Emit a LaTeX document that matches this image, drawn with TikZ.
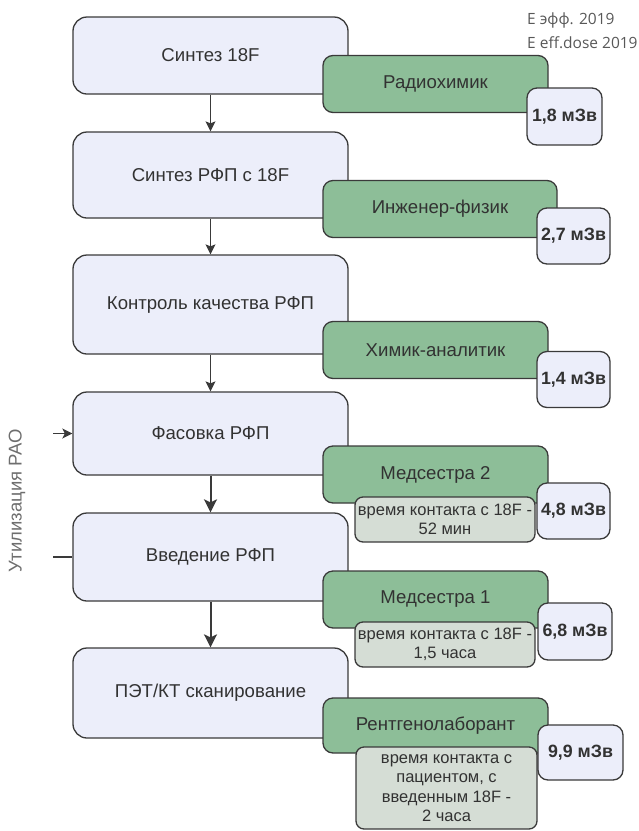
\documentclass[tikz,border=0pt]{standalone}
\usepackage{fontspec}
\setmainfont{Liberation Sans}
\newfontfamily\headfont{Open Sans}
\usetikzlibrary{arrows.meta, positioning}
\definecolor{stagefill}{RGB}{236,238,250}
\definecolor{staffgreen}{RGB}{141,190,152}
\definecolor{notegrey}{RGB}{213,221,213}
\definecolor{edgegrey}{RGB}{58,58,58}
\definecolor{textgrey}{RGB}{50,50,50}
\definecolor{labelgrey}{RGB}{110,110,110}

\begin{document}
\begin{tikzpicture}[x=1pt, y=-1pt,
    stage/.style={rectangle, draw=edgegrey, line width=1.3pt, rounded corners=14pt, fill=stagefill, minimum width=275pt, inner sep=0pt, align=center, text=textgrey, font=\fontsize{18.6}{22}\selectfont},
    staff/.style={rectangle, draw=edgegrey, line width=1.3pt, rounded corners=10pt, fill=staffgreen, minimum width=225pt, minimum height=57pt, inner sep=0pt, align=center, text=textgrey, font=\fontsize{18.6}{22}\selectfont},
    note/.style={rectangle, draw=edgegrey, line width=1.3pt, rounded corners=8pt, fill=notegrey, minimum width=180pt, minimum height=45pt, inner sep=0pt, align=center, text=textgrey, font=\fontsize{16.5}{19.5}\selectfont},
    dose/.style={rectangle, draw=edgegrey, line width=1.3pt, rounded corners=10pt, fill=stagefill, minimum width=73pt, minimum height=56pt, inner sep=0pt, align=center, text=textgrey, font=\fontsize{17.8}{21}\selectfont\bfseries},
    header/.style={anchor=west, inner sep=0pt, text=labelgrey!80!black, font=\headfont\fontsize{15.5}{18}\selectfont},
    arrow/.style={-{Stealth[length=10pt, width=10pt, inset=2pt]}, line width=1.2pt, draw=edgegrey},
    thickarrow/.style={-{Stealth[length=13pt, width=13pt, inset=3pt]}, line width=2pt, draw=edgegrey}
]
    \useasboundingbox (0,0) rectangle (639,831);

    % process steps
    \node[stage, minimum height=77pt] (synth) at (210.5,55.5) {Синтез 18F};
    \node[stage, minimum height=86pt] (synthrfp) at (210.5,175) {Синтез РФП с 18F};
    \node[stage, minimum height=99pt] (qc) at (210.5,304.5) {Контроль качества РФП};
    \node[stage, minimum height=83pt] (pack) at (210.5,433.5) {Фасовка РФП};
    \node[stage, minimum height=88pt] (inject) at (210.5,557) {Введение РФП};
    \node[stage, minimum height=90pt] (scan) at (210.5,693) {ПЭТ/КТ сканирование};

    \draw[arrow] (synth) -- (synthrfp);
    \draw[arrow] (synthrfp) -- (qc);
    \draw[arrow] (qc) -- (pack);
    \draw[thickarrow] (pack) -- (inject);
    \draw[thickarrow] (inject) -- (scan);

    % waste disposal
    \node[rotate=90, inner sep=0pt, text=labelgrey, font=\fontsize{18.5}{22}\selectfont] (waste) at (17,501) {Утилизация РАО};
    \coordinate (wastein) at (53,433.5);
    \coordinate (wasteout) at (53,557);
    \draw[-{Stealth[length=10pt, width=10pt, inset=2.5pt]}, line width=1.8pt, draw=edgegrey] (wastein) -- (pack.west);
    \draw[line width=1.6pt, draw=edgegrey] (wasteout) -- (inject.west);

    % staff
    \node[staff] (chem) at (435.5,84) {Радиохимик};
    \node[staff, minimum width=234pt] (eng) at (440,209) {Инженер-физик};
    \node[staff] (anal) at (435.5,350) {Химик-аналитик};
    \node[staff] (nurse2) at (435.5,474.5) {Медсестра 2};
    \node[staff] (nurse1) at (435.5,599.5) {Медсестра 1};
    \node[staff, minimum height=55pt] (xray) at (435.5,725.5) {Рентгенолаборант};

    % contact time
    \node[note] (contact2) at (445,519.5) {время контакта с 18F -\\52 мин};
    \node[note] (contact1) at (445,644.5) {время контакта с 18F -\\1,5 часа};
    \node[note, minimum width=181pt, minimum height=82pt] (contactx) at (446.5,788) {время контакта с\\пациентом, с\\введенным 18F -\\2 часа};

    % doses
    \node[dose, minimum width=75pt, minimum height=57pt] (dchem) at (564.5,116.5) {1,8 мЗв};
    \node[dose] (deng) at (573.5,236) {2,7 мЗв};
    \node[dose] (danal) at (573.5,379.5) {1,4 мЗв};
    \node[dose] (dnurse2) at (573.5,511) {4,8 мЗв};
    \node[dose, minimum width=74pt, minimum height=57pt] (dnurse1) at (575,631.5) {6,8 мЗв};
    \node[dose, minimum width=85pt, minimum height=55pt] (dxray) at (580.5,752.5) {9,9 мЗв};

    \node[header] (hdrru) at (527,20) {E эфф. 2019};
    \node[header] (hdren) at (527,43) {E eff.dose 2019};
\end{tikzpicture}
\end{document}
